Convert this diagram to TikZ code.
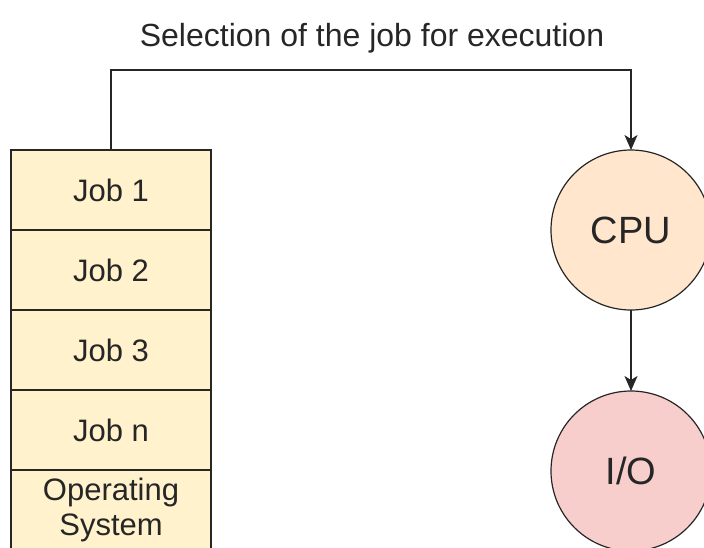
\documentclass[tikz,border=0pt]{standalone}
\usepackage{fontspec}
\setmainfont{Liberation Sans}
\usetikzlibrary{positioning,arrows.meta}
\definecolor{jobfill}{HTML}{FFF2CC}
\definecolor{cpufill}{HTML}{FFE6CC}
\definecolor{iofill}{HTML}{F8CECC}
\definecolor{ink}{HTML}{262626}

\begin{document}
\begin{tikzpicture}[x=1pt, y=-1pt, line width=1.2pt, draw=ink, text=ink,
	job/.style = {draw, fill=jobfill, minimum width=200pt, minimum height=80pt, inner sep=0pt, outer sep=0pt, align=center, font=\fontsize{31}{35}\selectfont},
	unit/.style = {draw, circle, minimum size=160pt, inner sep=0pt, outer sep=0pt, font=\fontsize{38}{40}\selectfont},
	flow/.style = {-{Stealth[length=15pt, width=13pt, inset=4pt]}}]
	\useasboundingbox (0,0) rectangle (704,547);
	\clip (0,0) rectangle (704,547);
	% job queue in memory
	\node[job] (job1) at (111,190) {Job 1};
	\node[job, below=0pt of job1] (job2) {Job 2};
	\node[job, below=0pt of job2] (job3) {Job 3};
	\node[job, below=0pt of job3] (jobn) {Job n};
	\node[job, below=0pt of jobn] (os) {Operating\\System};
	% processor and device
	\node[unit, fill=cpufill] (cpu) at (631,230) {CPU};
	\node[unit, fill=iofill, below=81pt of cpu] (io) {I/O};
	\node[anchor=base, font=\fontsize{32}{34}\selectfont] (title) at (372,46) {Selection of the job for execution};
	% connectors
	\draw[flow] (job1.north) -- ++(0,-80) -| (cpu.north);
	\draw[flow] (cpu.south) -- (io.north);
\end{tikzpicture}
\end{document}
